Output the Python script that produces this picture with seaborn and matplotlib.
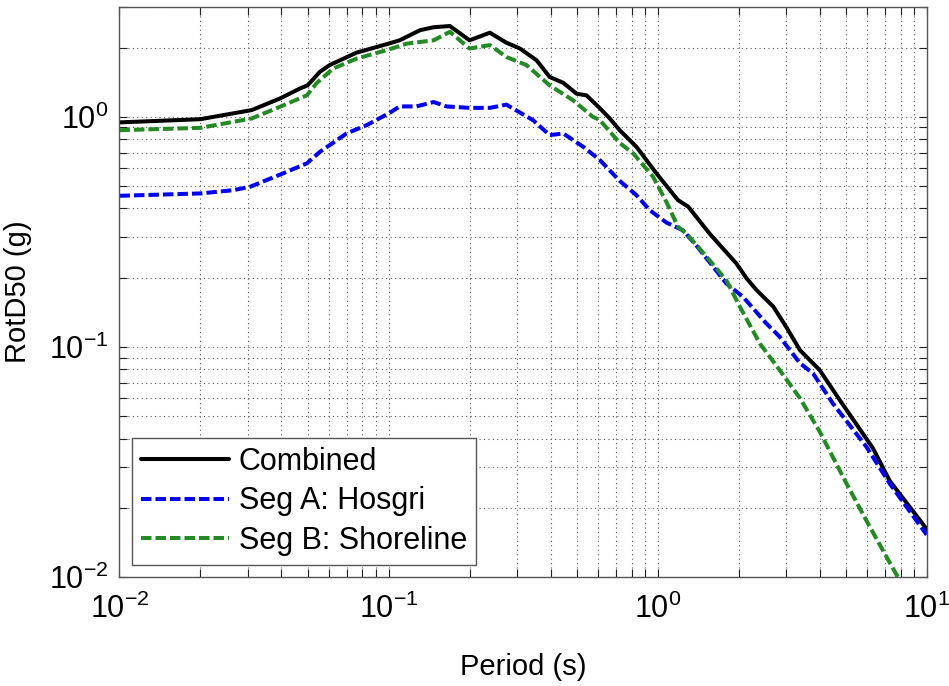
import numpy as np
import pandas as pd
import matplotlib
matplotlib.use("Agg")
import matplotlib.pyplot as plt
from matplotlib.ticker import LogLocator, LogFormatterSciNotation, NullFormatter
import seaborn as sns

# Spectral period (s) and RotD50 spectral acceleration (g) for each case
period_combined = [0.01, 0.02, 0.031, 0.0394, 0.047, 0.05, 0.0556, 0.0605, 0.076, 0.1,
                   0.11, 0.131, 0.147, 0.169, 0.2, 0.238, 0.274, 0.308, 0.355, 0.397,
                   0.446, 0.5, 0.544, 0.61, 0.664, 0.723, 0.834, 0.99, 1.19, 1.3,
                   1.56, 1.96, 2.14, 2.33, 2.69, 3.01, 3.38, 4.0, 4.75, 6.31, 7.28, 10.0]
sa_combined = [0.946, 0.977, 1.07, 1.20, 1.33, 1.37, 1.57, 1.68, 1.90, 2.08,
               2.15, 2.38, 2.45, 2.48, 2.15, 2.32, 2.10, 1.98, 1.76, 1.49,
               1.405, 1.26, 1.24, 1.09, 0.984, 0.875, 0.741, 0.568, 0.435, 0.407,
               0.311, 0.231, 0.199, 0.177, 0.150, 0.122, 0.097, 0.0795, 0.0589, 0.0364, 0.0263, 0.0162]

period_seg_a = [0.01, 0.02, 0.0264, 0.0306, 0.0405, 0.0497, 0.0556, 0.0698, 0.0828, 0.1,
                0.11, 0.127, 0.147, 0.164, 0.2, 0.238, 0.274, 0.344, 0.397, 0.446,
                0.529, 0.61, 0.723, 0.834, 0.935, 1.08, 1.24, 1.39, 1.61, 1.80,
                2.08, 2.53, 2.84, 3.38, 3.78, 4.48, 5.96, 7.28, 10.0]
sa_seg_a = [0.454, 0.465, 0.48, 0.497, 0.568, 0.628, 0.705, 0.847, 0.92, 1.034,
            1.11, 1.11, 1.16, 1.11, 1.094, 1.094, 1.13, 0.968, 0.833, 0.847,
            0.741, 0.649, 0.527, 0.457, 0.393, 0.347, 0.322, 0.277, 0.223, 0.189,
            0.165, 0.127, 0.111, 0.0851, 0.0769, 0.0569, 0.037, 0.0256, 0.0153]

period_seg_b = [0.01, 0.02, 0.031, 0.0394, 0.0497, 0.054, 0.0622, 0.076, 0.1, 0.117,
                0.147, 0.169, 0.2, 0.238, 0.274, 0.325, 0.397, 0.485, 0.575, 0.61,
                0.723, 0.811, 0.962, 1.08, 1.19, 1.28, 1.52, 1.80, 2.02, 2.40,
                2.84, 3.38, 4.0, 5.03, 5.96, 7.08, 10.0]
sa_seg_b = [0.875, 0.896, 0.984, 1.105, 1.24, 1.40, 1.62, 1.79, 1.96, 2.08,
            2.15, 2.34, 1.98, 2.05, 1.82, 1.68, 1.37, 1.18, 1.0, 0.968,
            0.77, 0.694, 0.549, 0.425, 0.333, 0.311, 0.247, 0.195, 0.150, 0.1035,
            0.0795, 0.06, 0.043, 0.0256, 0.0177, 0.0123, 0.006]

series_names = ["Combined", "Seg A: Hosgri", "Seg B: Shoreline"]
series_colors = {"Combined": "#000000", "Seg A: Hosgri": "#0000ff", "Seg B: Shoreline": "#228b22"}
series_dashes = {"Combined": "", "Seg A: Hosgri": (2.6, 1.0), "Seg B: Shoreline": (2.6, 1.0)}

df = pd.concat([
    pd.DataFrame({"period": period_combined, "sa": sa_combined, "series": series_names[0]}),
    pd.DataFrame({"period": period_seg_a, "sa": sa_seg_a, "series": series_names[1]}),
    pd.DataFrame({"period": period_seg_b, "sa": sa_seg_b, "series": series_names[2]}),
], ignore_index=True)

sns.set_theme(style="ticks")
plt.rcParams["font.family"] = ["Liberation Sans", "DejaVu Sans"]
plt.rcParams["mathtext.default"] = "regular"
plt.rcParams["axes.unicode_minus"] = False
for key in ("text.color", "axes.labelcolor", "xtick.labelcolor", "ytick.labelcolor"):
    plt.rcParams[key] = "black"

fig = plt.figure(figsize=(9.49, 6.86), dpi=100)
ax = fig.add_axes([0.1259, 0.1584, 0.8506, 0.8314])

sns.lineplot(data=df, x="period", y="sa", hue="series", style="series",
             hue_order=series_names, style_order=series_names,
             palette=series_colors, dashes=series_dashes,
             estimator=None, sort=False, linewidth=2.9, legend=False, ax=ax)

ax.set_xscale("log")
ax.set_yscale("log")
ax.set_xlim(0.01, 10)
ax.set_ylim(0.01, 3)

for axis in (ax.xaxis, ax.yaxis):
    axis.set_major_locator(LogLocator(base=10))
    axis.set_minor_locator(LogLocator(base=10, subs=np.arange(2, 10)))
    axis.set_major_formatter(LogFormatterSciNotation())
    axis.set_minor_formatter(NullFormatter())

ax.grid(True, which="both", color="#555555", linestyle=(0, (1, 3)), linewidth=0.8)
ax.tick_params(which="both", direction="in", top=True, right=True,
               length=6, width=0.8, color="#222222", labelcolor="black")
ax.tick_params(axis="both", which="major", labelsize=22)
ax.tick_params(axis="x", which="major", pad=12)
ax.tick_params(axis="y", which="major", pad=8)
for sp in ax.spines.values():
    sp.set_color("#555555")
    sp.set_linewidth(1.0)

ax.set_xlabel("Period (s)", fontsize=21, labelpad=20, color="black")
ax.set_ylabel("RotD50 (g)", fontsize=21, labelpad=12, color="black")

handles = ax.get_lines()[:3]
leg = ax.legend(handles, series_names, loc="lower left", fontsize=22,
                frameon=True, fancybox=False, framealpha=1, edgecolor="#555555",
                handlelength=2.9, handletextpad=0.3, labelspacing=0.31,
                borderpad=0.3, borderaxespad=0.4)
leg.get_frame().set_linewidth(1.0)
for txt in leg.get_texts():
    txt.set_color("black")

fig.savefig("out.png", dpi=100)
